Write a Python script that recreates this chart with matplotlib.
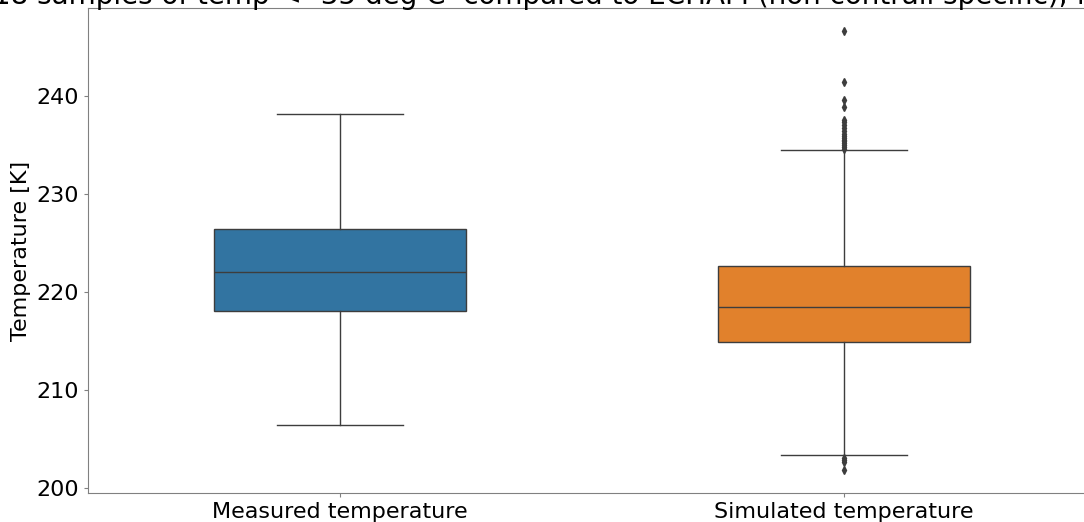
import matplotlib
matplotlib.use("Agg")
import matplotlib.pyplot as plt

# summary statistics of the two temperature distributions [K]
labels = ["Measured temperature", "Simulated temperature"]
medians = [222.0, 218.5]
q1 = [218.1, 214.9]
q3 = [226.4, 222.7]
whisker_low = [206.4, 203.3]
whisker_high = [238.2, 234.5]
fliers = [
    [],
    [246.7, 241.5, 239.6, 238.9, 237.6, 237.4, 237.1, 236.8, 236.5, 236.2,
     236.0, 235.8, 235.6, 235.4, 235.2, 235.0, 234.8, 234.6,
     203.0, 202.8, 202.6, 201.8],
]
colors = ["#3274a1", "#e1812c"]

title = ("18 samples of temp < -35 deg C  compared to ECHAM "
         "(non contrail specific), for all flights")

stats = []
for i in range(len(labels)):
    stats.append({
        "label": labels[i],
        "med": medians[i],
        "q1": q1[i],
        "q3": q3[i],
        "whislo": whisker_low[i],
        "whishi": whisker_high[i],
        "fliers": fliers[i],
    })

fig = plt.figure(figsize=(10.84, 5.22), dpi=100)
ax = fig.add_axes([0.0812, 0.0556, 0.930, 0.9291])

gray = "#3d3d3d"
lw = 1.0
bp = ax.bxp(
    stats,
    positions=[0, 1],
    widths=0.5,
    patch_artist=True,
    boxprops=dict(edgecolor=gray, linewidth=lw),
    medianprops=dict(color=gray, linewidth=lw),
    whiskerprops=dict(color=gray, linewidth=lw),
    capprops=dict(color=gray, linewidth=lw),
    flierprops=dict(marker="d", markersize=4, markerfacecolor=gray,
                    markeredgecolor=gray),
)
for patch, c in zip(bp["boxes"], colors):
    patch.set_facecolor(c)

ax.set_xlim(-0.5, 1.5)
ax.set_ylim(199.45, 249.05)
ax.set_yticks([200, 210, 220, 230, 240])
ax.set_ylabel("Temperature [K]", fontsize=16)
ax.tick_params(labelsize=16, length=3, width=0.8, color="#808080")
for spine in ax.spines.values():
    spine.set_color("#808080")
ax.spines["right"].set_visible(False)

fig.text(-0.006, 1.0077, title, fontsize=20, ha="left", va="center")

fig.savefig("out.png", dpi=100)
